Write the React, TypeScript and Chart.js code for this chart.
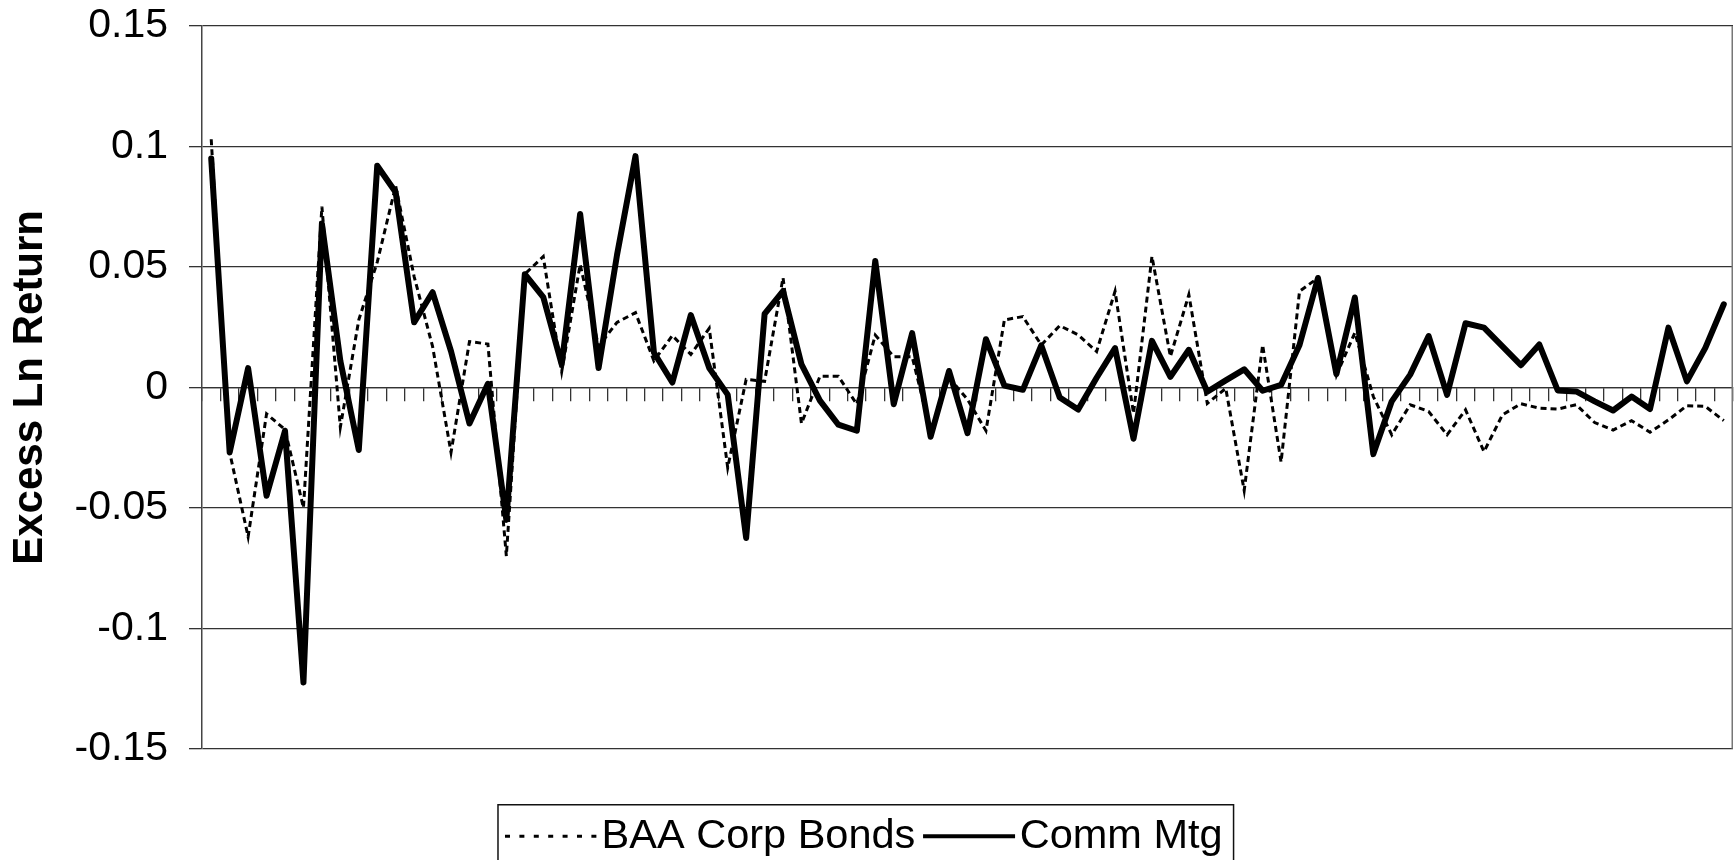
import React, { useEffect, useRef } from 'react';
import { Chart, registerables } from 'chart.js';

Chart.register(...registerables);

// ---- Data ----
const commMtg: number[] = [
  0.095, -0.027, 0.008, -0.045, -0.018, -0.1225, 0.068, 0.011, -0.026, 0.092,
  0.081, 0.027, 0.0395, 0.015, -0.015, 0.0015, -0.055, 0.047, 0.0375, 0.0095,
  0.072, 0.008, 0.055, 0.096, 0.0145, 0.002, 0.03, 0.008, -0.003, -0.0625,
  0.0305, 0.04, 0.0095, -0.0055, -0.0155, -0.018, 0.0525, -0.007, 0.0225, -0.0205,
  0.0068, -0.019, 0.02, 0.0007, -0.001, 0.0174, -0.0042, -0.0092, 0.004, 0.0163,
  -0.0213, 0.0193, 0.0044, 0.0156, -0.0018, 0.0029, 0.0075, -0.0014, 0.001, 0.0176,
  0.0454, 0.0055, 0.0373, -0.0277, -0.0058, 0.0053, 0.0213, -0.0031, 0.0266, 0.0248,
  0.017, 0.0092, 0.0178, -0.0013, -0.0017, -0.0058, -0.0096, -0.0038, -0.009, 0.0248,
  0.0025, 0.0164, 0.0345,
];

const baaCorpBonds: number[] = [
  0.103, -0.027, -0.062, -0.011, -0.0175, -0.05, 0.075, -0.0165, 0.028, 0.052,
  0.0836, 0.046, 0.017, -0.027, 0.019, 0.018, -0.07, 0.047, 0.0543, 0.0065,
  0.051, 0.017, 0.027, 0.031, 0.011, 0.0215, 0.0137, 0.0245, -0.0333, 0.0033,
  0.0025, 0.0455, -0.015, 0.0046, 0.0046, -0.007, 0.0217, 0.0127, 0.0127, -0.018,
  0.004, -0.005, -0.018, 0.028, 0.0294, 0.0176, 0.0256, 0.0218, 0.0149, 0.0399,
  -0.0108, 0.0544, 0.0128, 0.0385, -0.0067, -0.0004, -0.0428, 0.0176, -0.031, 0.0399,
  0.0454, 0.005, 0.0227, -0.0038, -0.0197, -0.0072, -0.01, -0.0197, -0.0093, -0.0267,
  -0.0114, -0.0068, -0.0086, -0.009, -0.0072, -0.0146, -0.0177, -0.0138, -0.0186, -0.0135,
  -0.0076, -0.0079, -0.0138,
];

const categories: string[] = commMtg.map((_, i) => String(i + 1));

const yTickValues: number[] = [-0.15, -0.1, -0.05, 0, 0.05, 0.1, 0.15];
const yTickLabels: string[] = ['-0.15', '-0.1', '-0.05', '0', '0.05', '0.1', '0.15'];

const seriesNames = { baa: 'BAA Corp Bonds', comm: 'Comm Mtg' };
const yAxisTitle = 'Excess Ln Return';

const FONT = "'Liberation Sans', Arial, Helvetica, sans-serif";
const LEGEND_FONT_SIZE = 41.5;
const LEGEND_BOX_W = 70.4;

const decorPlugin = {
  id: 'decor',
  afterDraw(chart: any) {
    const ctx = chart.ctx as CanvasRenderingContext2D;
    const ca = chart.chartArea;
    ctx.save();
    // right border of plot area
    ctx.strokeStyle = '#777';
    ctx.lineWidth = 1.5;
    ctx.setLineDash([]);
    ctx.beginPath();
    ctx.moveTo(ca.right - 0.75, ca.top);
    ctx.lineTo(ca.right - 0.75, ca.bottom);
    ctx.stroke();

    // legend samples + frame
    const lg = chart.legend;
    const hbs = lg?.legendHitBoxes || [];
    const items = lg?.legendItems || [];
    let mid = 0;
    let firstSampleLeft = 0;
    hbs.forEach((hb: any, i: number) => {
      const item = items[i];
      const ds = chart.data.datasets[item.datasetIndex];
      const dotted = Array.isArray(ds.borderDash) && ds.borderDash.length > 0;
      const y = hb.top + hb.height / 2;
      mid = y;
      const textLeft = hb.left + LEGEND_BOX_W + LEGEND_FONT_SIZE / 2;
      const x1 = textLeft - 4.6;
      const x0 = x1 - 92;
      if (i === 0) firstSampleLeft = x0;
      ctx.strokeStyle = '#000';
      ctx.lineCap = 'butt';
      ctx.lineWidth = dotted ? 3 : 4;
      ctx.setLineDash(dotted ? [5, 9.4] : []);
      ctx.beginPath();
      ctx.moveTo(x0, y);
      ctx.lineTo(x1, y);
      ctx.stroke();
    });
    if (hbs.length) {
      const last = hbs[hbs.length - 1];
      const left = firstSampleLeft - 7;
      const right = last.left + last.width + 11;
      const top = mid - 31.5;
      ctx.setLineDash([]);
      ctx.strokeStyle = '#111';
      ctx.lineWidth = 1.5;
      ctx.strokeRect(left, top, right - left, chart.height + 20 - top);
    }
    ctx.restore();
  },
};

export default function App() {
  const canvasRef = useRef<HTMLCanvasElement | null>(null);

  useEffect(() => {
    const canvas = canvasRef.current;
    if (!canvas) return;
    const defaultGen = (Chart as any).defaults.plugins.legend.labels.generateLabels;
    const chart = new Chart(canvas, {
      type: 'line',
      data: {
        labels: categories,
        datasets: [
          {
            label: seriesNames.comm,
            data: commMtg,
            borderColor: '#000',
            backgroundColor: 'rgba(0,0,0,0)',
            borderWidth: 6,
            borderJoinStyle: 'round',
            borderCapStyle: 'round',
            pointRadius: 0,
            tension: 0,
            fill: false,
          },
          {
            label: seriesNames.baa,
            data: baaCorpBonds,
            borderColor: '#000',
            backgroundColor: 'rgba(0,0,0,0)',
            borderWidth: 3,
            borderDash: [6, 4],
            borderJoinStyle: 'miter',
            borderCapStyle: 'butt',
            pointRadius: 0,
            tension: 0,
            fill: false,
          },
        ],
      },
      options: {
        responsive: false,
        animation: false,
        events: [],
        layout: { padding: { top: 26, right: 1, bottom: 0, left: 0 }, autoPadding: false },
        scales: {
          x: {
            type: 'category',
            position: { y: 0 } as any,
            offset: true,
            grid: {
              offset: true,
              drawOnChartArea: false,
              drawTicks: true,
              tickLength: 13,
              color: '#333',
              lineWidth: 1.3,
            },
            border: { display: true, color: '#333', width: 1.3 },
            ticks: { display: false, autoSkip: false },
            afterFit: (s: any) => {
              s.paddingLeft = 0;
              s.paddingRight = 0;
            },
          },
          y: {
            type: 'linear',
            min: -0.15,
            max: 0.15,
            afterBuildTicks: (s: any) => {
              s.ticks = yTickValues.map((v) => ({ value: v }));
            },
            ticks: {
              padding: 21,
              color: '#000',
              font: { family: FONT, size: 41 },
              callback: (v: any) => {
                const idx = yTickValues.findIndex((t) => Math.abs(t - Number(v)) < 1e-9);
                return idx >= 0 ? yTickLabels[idx] : '';
              },
            },
            grid: { color: '#333', lineWidth: 1.3, tickLength: 13, drawTicks: true },
            border: { display: true, color: '#444', width: 1.5 },
            title: {
              display: true,
              text: yAxisTitle,
              color: '#000',
              font: { family: FONT, size: 42, weight: 'bold' },
              padding: { top: 5, bottom: 0 },
            },
            afterFit: (s: any) => {
              s.width = 202;
              s.paddingTop = 0;
              s.paddingBottom = 0;
            },
          },
        },
        plugins: {
          tooltip: { enabled: false },
          legend: {
            display: true,
            position: 'bottom',
            align: 'center',
            title: { display: true, text: '', font: { size: 10 }, padding: { top: 41.55, bottom: 0 } },
            labels: {
              boxWidth: LEGEND_BOX_W,
              boxHeight: 2,
              padding: 13.2,
              color: '#000',
              font: { family: FONT, size: LEGEND_FONT_SIZE },
              generateLabels: (c: any) => {
                const items = defaultGen(c);
                return [...items].reverse().map((it: any) => ({
                  ...it,
                  fillStyle: 'rgba(0,0,0,0)',
                  strokeStyle: 'rgba(0,0,0,0)',
                  lineWidth: 0,
                  lineDash: [],
                }));
              },
            },
          },
        },
      } as any,
      plugins: [decorPlugin],
    });
    return () => chart.destroy();
  }, []);

  return (
    <div
      style={{
        position: 'fixed',
        left: 0,
        top: 0,
        width: 1734,
        height: 860,
        overflow: 'hidden',
        background: '#fff',
      }}
    >
      <canvas ref={canvasRef} width={1734} height={867} style={{ display: 'block' }} />
    </div>
  );
}
